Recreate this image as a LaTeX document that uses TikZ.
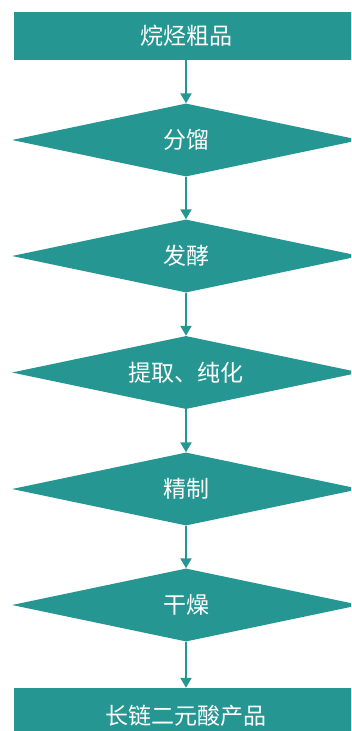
\documentclass[tikz,border=0pt]{standalone}
\usepackage{fontspec}
\newfontfamily\cjk{Noto Sans CJK SC}
\usetikzlibrary{shapes.geometric,arrows.meta}
\definecolor{teal1}{RGB}{37,150,146}
\begin{document}
\begin{tikzpicture}[x=1pt,y=-1pt,
  box/.style={rectangle,fill=teal1,text=white,inner sep=0pt,font=\cjk\fontsize{23}{26}\selectfont},
  dia/.style={diamond,fill=teal1,text=white,inner sep=0pt,shape aspect=4.77,minimum width=348pt,minimum height=73pt,font=\cjk\fontsize{23}{26}\selectfont},
  conn/.style={draw=teal1,line width=2pt,-{Triangle[length=10pt,width=11pt]}}]
\useasboundingbox (0,0) rectangle (351,731);
\clip (0,0) rectangle (351,731);
\node[box,minimum width=344pt,minimum height=48pt] (top) at (186,36) {烷烃粗品};
\node[dia] (d1) at (186,140) {分馏};
\node[dia] (d2) at (186,256) {发酵};
\node[dia] (d3) at (186,372.5) {提取、纯化};
\node[dia] (d4) at (186,489) {精制};
\node[dia] (d5) at (186,605) {干燥};
\node[box,minimum width=344pt,minimum height=56pt] (bot) at (186,716) {长链二元酸产品};
\draw[conn] (top) -- (d1);
\draw[conn] (d1) -- (d2);
\draw[conn] (d2) -- (d3);
\draw[conn] (d3) -- (d4);
\draw[conn] (d4) -- (d5);
\draw[conn] (d5) -- (bot);
\end{tikzpicture}
\end{document}
